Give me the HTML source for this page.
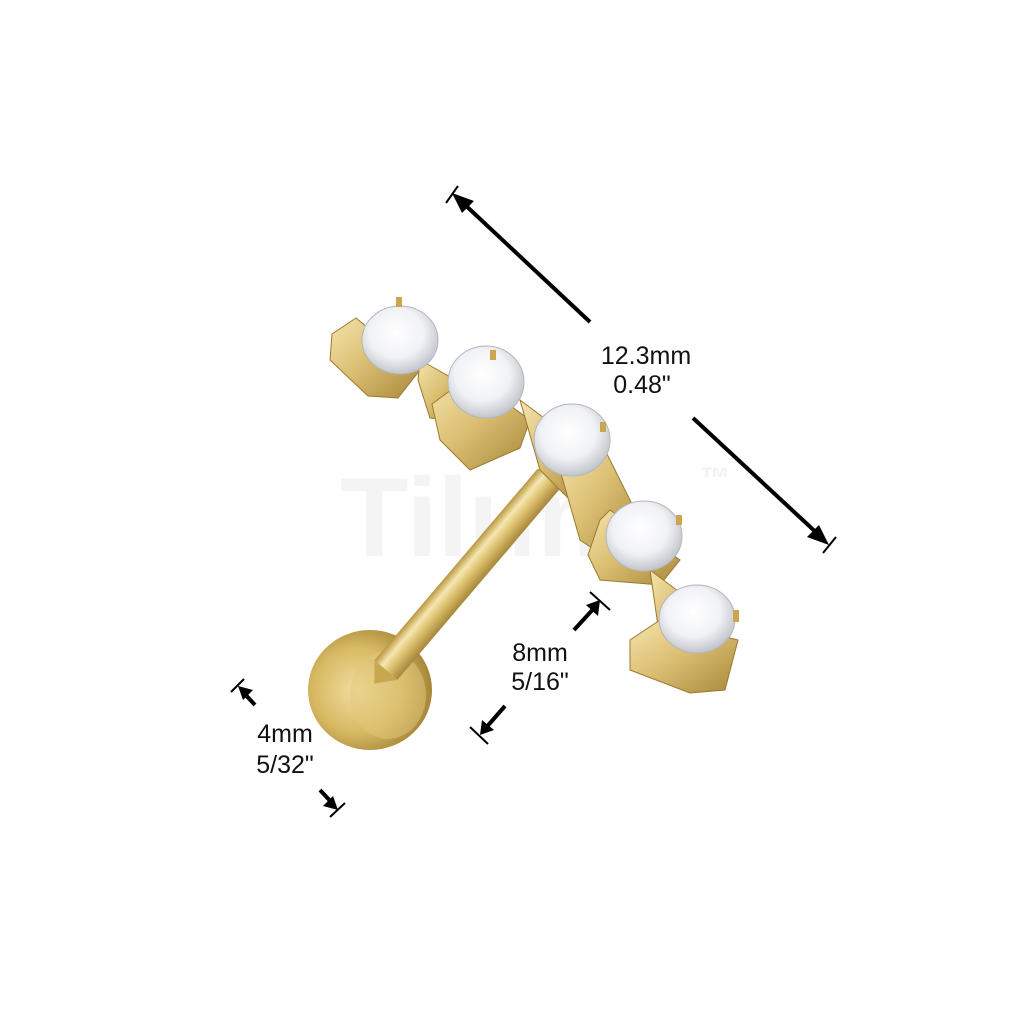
<!DOCTYPE html>
<html><head><style>
html,body{margin:0;padding:0;background:#fff;}
svg{display:block}
text{font-family:"Liberation Sans",sans-serif;}
</style></head><body>
<svg width="1024" height="1024" viewBox="0 0 1024 1024" xmlns="http://www.w3.org/2000/svg">
<defs>
<linearGradient id="gold" x1="0" y1="0" x2="1" y2="1">
<stop offset="0" stop-color="#f5e4ac"/><stop offset="0.45" stop-color="#dcc074"/><stop offset="1" stop-color="#a8883a"/>
</linearGradient>
<linearGradient id="shaft" x1="0" y1="0" x2="0" y2="1">
<stop offset="0" stop-color="#b8963f"/><stop offset="0.3" stop-color="#f6e7b0"/><stop offset="0.6" stop-color="#dcbf6c"/><stop offset="1" stop-color="#a6863a"/>
</linearGradient>
<radialGradient id="disc" cx="0.4" cy="0.5" r="0.65">
<stop offset="0" stop-color="#f1dea0"/><stop offset="0.55" stop-color="#d8b963"/><stop offset="1" stop-color="#9a7a2e"/>
</radialGradient>
<radialGradient id="gem" cx="0.45" cy="0.4" r="0.6">
<stop offset="0" stop-color="#ffffff"/><stop offset="0.6" stop-color="#f1f2f5"/><stop offset="1" stop-color="#c2c5cc"/>
</radialGradient>
</defs>
<text x="340" y="556" font-size="112" font-weight="bold" fill="#f4f4f4">Tilum</text>
<text x="700" y="488" font-size="30" font-weight="bold" fill="#f2f2f2">™</text>
<ellipse cx="370" cy="690" rx="62" ry="60" fill="url(#disc)"/>
<ellipse cx="388" cy="695" rx="38" ry="44" fill="#e2c77c" opacity="0.5"/>
<g transform="translate(386,670) rotate(-49.6)">
<rect x="0" y="-15" width="252" height="30" fill="url(#shaft)"/>
<polygon points="0,-15 -18,0 0,15" fill="#c9a650"/>
</g>
<g fill="url(#gold)" stroke="#9a7a30" stroke-width="1">
<polygon points="332,334 356,318 420,370 398,398 368,396 330,360"/>
<polygon points="420,360 470,388 448,420 430,418 418,380"/>
<polygon points="432,404 470,376 530,420 520,448 470,470 440,440"/>
<polygon points="520,400 560,430 590,470 570,500 540,470"/>
<polygon points="560,470 600,440 640,520 610,560 580,540"/>
<polygon points="600,520 610,510 680,560 660,585 600,580 588,555"/>
<polygon points="650,570 690,600 700,640 680,660 660,640"/>
<polygon points="630,640 660,620 738,640 725,690 690,693 630,670"/>
</g>
<g stroke="#b4b6be" stroke-width="1">
<ellipse cx="400" cy="340" rx="38" ry="34" fill="url(#gem)"/>
<ellipse cx="486" cy="382" rx="38" ry="36" fill="url(#gem)"/>
<ellipse cx="572" cy="440" rx="38" ry="36" fill="url(#gem)"/>
<ellipse cx="644" cy="536" rx="38" ry="35" fill="url(#gem)"/>
<ellipse cx="697" cy="619" rx="38" ry="34" fill="url(#gem)"/>
</g>
<g fill="#c9a650">
<rect x="396" y="297" width="6" height="10"/><rect x="490" y="350" width="6" height="10"/>
<rect x="600" y="422" width="6" height="10"/><rect x="676" y="515" width="6" height="10"/><rect x="733" y="610" width="6" height="12"/>
</g>
<g stroke="#000" stroke-width="4" fill="#000">
<line x1="462" y1="202" x2="590" y2="322"/>
<polygon points="452,193 474,201 462,213" stroke="none"/>
<line x1="446" y1="203" x2="458" y2="186" stroke-width="2"/>
<line x1="693" y1="418" x2="820" y2="536"/>
<polygon points="829,545 807,537 819,525" stroke="none"/>
<line x1="823" y1="553" x2="836" y2="537" stroke-width="2"/>
<line x1="574" y1="630" x2="596" y2="606"/>
<polygon points="600,600 598,616 586,605" stroke="none"/>
<line x1="590" y1="592" x2="610" y2="610" stroke-width="2"/>
<line x1="505" y1="706" x2="484" y2="730"/>
<polygon points="480,735 482,720 494,730" stroke="none"/>
<line x1="470" y1="727" x2="488" y2="744" stroke-width="2"/>
<line x1="255" y1="705" x2="243" y2="692"/>
<polygon points="238,686 253,690 243,700" stroke="none"/>
<line x1="231" y1="692" x2="244" y2="679" stroke-width="2"/>
<line x1="320" y1="790" x2="333" y2="804"/>
<polygon points="338,810 323,806 333,796" stroke="none"/>
<line x1="330" y1="817" x2="345" y2="803" stroke-width="2"/>
</g>
<g font-size="25" fill="#111" text-anchor="middle">
<text x="646" y="364">12.3mm</text>
<text x="642" y="393">0.48"</text>
<text x="540" y="661">8mm</text>
<text x="540" y="690">5/16"</text>
<text x="285" y="742">4mm</text>
<text x="285" y="773">5/32"</text>
</g>
</svg>
</body></html>
